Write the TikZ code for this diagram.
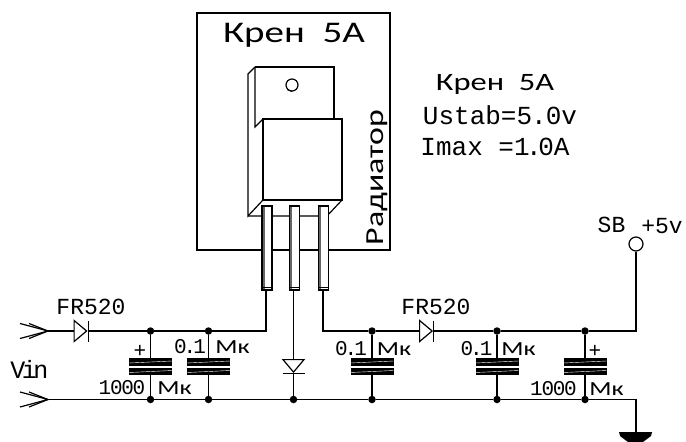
\documentclass[tikz,border=0pt]{standalone}
\usepackage{fontspec}
\setmainfont{Liberation Mono}
\newfontfamily\rusfont{Carlito}[FakeStretch=1.3]
\newfontfamily\tightfont{Liberation Mono}[LetterSpace=-6]
\usetikzlibrary{shapes.geometric}

\tikzset{
  wire/.style={line width=1.2pt},
  junc/.style={circle,fill=black,inner sep=0pt,minimum size=7.5pt},
  plate/.style={rectangle,fill=black,inner sep=0pt,minimum width=43pt,minimum height=7.5pt,
    path picture={\draw[white,line width=.4pt] ([yshift=-1pt]path picture bounding box.west) -- ([yshift=1pt]path picture bounding box.east);}},
  diode/.style={isosceles triangle,isosceles triangle stretches,draw=black,line width=1.2pt,fill=white,inner sep=0pt,minimum width=21pt,minimum height=12.5pt},
  lead/.style={rectangle,draw=black,line width=1.2pt,fill=white,inner sep=0pt,minimum width=10pt,minimum height=84pt,
    path picture={\fill[black!60] (path picture bounding box.south west) rectangle ([xshift=2.5pt]path picture bounding box.north west);
      \draw[line width=.8pt] ([yshift=3pt]path picture bounding box.south west) -- ([yshift=3pt]path picture bounding box.south east);}},
  lbl/.style={inner sep=0pt,font=\fontsize{21}{21}\selectfont},
  unit/.style={inner sep=0pt,font=\rusfont\fontsize{20}{20}\selectfont},
  big/.style={inner sep=0pt,font=\fontsize{26}{26}\selectfont}
}

\begin{document}
\begin{tikzpicture}[x=1pt,y=-1pt]
\useasboundingbox (0,0) rectangle (686,442);
%Radiator
\node at (197,13) [inner sep=0pt] (BoxA) {};
\node at (390,250) [inner sep=0pt] (BoxB) {};
\draw [wire] (BoxA) rectangle (BoxB);
\node at (294,42) [big,anchor=base,font=\rusfont\fontsize{30}{30}\selectfont] (TitleBox) {Крен\ \ 5A};
\node at (383,177.5) [big,anchor=base,rotate=90,font=\rusfont\fontsize{26}{26}\selectfont] (TitleRad) {Радиатор};

%Package
\draw [wire] (255,67) -- (334,67) -- (334,119);
\draw [wire] (255,67) -- (248,74) -- (248,216) -- (263,200);
\draw [wire] (255,67) -- (255,127) -- (263,119);
\draw [wire] (263,119) rectangle (342,200);
\draw [wire] (248,216) -- (327,216) -- (342,200);
\node at (292,85) [circle,draw=black,line width=1.2pt,inner sep=0pt,minimum size=12pt] (Hole) {};
\draw [line width=.8pt] (Hole.south west) -- (Hole.south);
\node at (267,248) [lead] (Lead1) {};
\node at (294.5,248) [lead] (Lead2) {};
\node at (323.5,248) [lead] (Lead3) {};

%Junctions
\node at (150.5,331) [junc] (J1) {};
\node at (208.5,331) [junc] (J2) {};
\node at (150.5,399.5) [junc] (J3) {};
\node at (208.5,399.5) [junc] (J4) {};
\node at (293.5,399.5) [junc] (J5) {};
\node at (372,331) [junc] (J6) {};
\node at (497,331) [junc] (J7) {};
\node at (585,331) [junc] (J8) {};
\node at (372,399.5) [junc] (J9) {};
\node at (497,399.5) [junc] (J10) {};
\node at (585,399.5) [junc] (J11) {};

%Capacitors
\node at (150.5,362) [plate] (C1a) {};
\node at (150.5,371.5) [plate] (C1b) {};
\node at (208.5,362) [plate] (C2a) {};
\node at (208.5,371.5) [plate] (C2b) {};
\node at (372,362) [plate] (C3a) {};
\node at (372,371.5) [plate] (C3b) {};
\node at (497,362) [plate] (C4a) {};
\node at (497,371.5) [plate] (C4b) {};
\node at (585,362) [plate] (C5a) {};
\node at (585,371.5) [plate] (C5b) {};

%Diodes
\node at (79,331) [diode] (D1) {};
\node at (424.5,331) [diode] (D2) {};
\node at (293.5,364.5) [diode,shape border rotate=-90] (D3) {};

%Free ends
\coordinate (In1) at (48,331);
\coordinate (In2) at (48,399.5);
\coordinate (Corner1) at (266,331);
\coordinate (Corner2) at (323,331);
\coordinate (Corner3) at (636,331);
\coordinate (Corner4) at (636,399.5);
\coordinate (Gnd) at (636,433);
\node at (636,244) [circle,draw=black,line width=1.2pt,inner sep=0pt,minimum size=14pt] (Out) {};

%Connections
\draw [wire] (In1) -- (D1.lower side);
\draw [wire] (D1.apex) -- (J1);
\draw [wire] (J1) -- (J2) -- (Corner1) -- (Lead1.south -| Corner1);
\draw [wire] (In2) -- (J3) -- (J4) -- (J5) -- (J9) -- (J10) -- (J11) -- (Corner4) -- (Gnd);
\draw [wire] (Lead3.south -| Corner2) -- (Corner2) -- (J6) -- (D2.lower side);
\draw [wire] (D2.apex) -- (J7) -- (J8) -- (Corner3) -- (Out);
\draw [wire] (Lead2.south -| D3.apex) -- (D3.lower side);
\draw [wire] (D3.apex) -- (J5);
\draw [wire] (J1) -- (C1a);
\draw [wire] (C1b) -- (J3);
\draw [wire] (J2) -- (C2a);
\draw [wire] (C2b) -- (J4);
\draw [wire] (J6) -- (C3a);
\draw [wire] (C3b) -- (J9);
\draw [wire] (J7) -- (C4a);
\draw [wire] (C4b) -- (J10);
\draw [wire] (J8) -- (C5a);
\draw [wire] (C5b) -- (J11);
% Diode bars
\draw [wire] ([yshift=-10.5]D1.apex) -- ([yshift=10.5]D1.apex);
\draw [wire] ([yshift=-10.5]D2.apex) -- ([yshift=10.5]D2.apex);
\draw [wire] ([xshift=-11]D3.apex) -- ([xshift=11]D3.apex);
% Input chevrons
\draw [wire] (20,323.5) -- (In1) -- (20,338.5);
\draw [wire] (29,323.5) -- (In1) -- (29,338.5);
\draw [wire] (20,392) -- (In2) -- (20,407);
\draw [wire] (29,392) -- (In2) -- (29,407);
% Ground
\fill (619,432) -- (652,432) -- (651,436) -- (643,442) -- (628,442) -- (620,436) -- cycle;

%Labels
\node at (91,307) [lbl,font=\fontsize{23}{23}\selectfont] (Fr1) {FR520};
\node at (436,307) [lbl,font=\fontsize{23}{23}\selectfont] (Fr2) {FR520};
\node at (29.5,369) [lbl,font=\fontsize{25}{25}\selectfont] (Vin) {V\kern-3.5pt i\kern-3.5pt n};
\node at (140,351) [lbl] (Plus1) {+};
\node at (595,351) [lbl] (Plus2) {+};
\node at (190,347) [lbl] (V2) {0\kern-3pt.\kern-3pt 1};
\node at (232.5,347) [unit] (U2) {Мк};
\node at (122,388) [lbl] (V1) {\tightfont 1000};
\node at (174.5,388) [unit] (U1) {Мк};
\node at (351,349) [lbl] (V3) {0\kern-3pt.\kern-3pt 1};
\node at (394,349) [unit] (U3) {Мк};
\node at (476.5,349) [lbl] (V4) {0\kern-3pt.\kern-3pt 1};
\node at (518.5,349) [unit] (U4) {Мк};
\node at (553.5,389) [lbl] (V5) {\tightfont 1000};
\node at (606.5,389) [unit] (U5) {Мк};
\node at (611.5,225) [lbl,font=\fontsize{23}{23}\selectfont] (Sb) {SB};
\node at (662,226) [lbl,font=\fontsize{23}{23}\selectfont] (Five) {+5v};
\node at (495,90) [big,anchor=base,font=\rusfont\fontsize{25}{25}\selectfont] (Info1) {Крен\ \ 5A};
\node at (500,115) [big] (Info2) {Ustab=5\kern-1pt.\kern-1pt 0v};
\node at (495,147) [big] (Info3) {Imax =1\kern-3.5pt.\kern-3.5pt 0A};
\end{tikzpicture}
\end{document}
